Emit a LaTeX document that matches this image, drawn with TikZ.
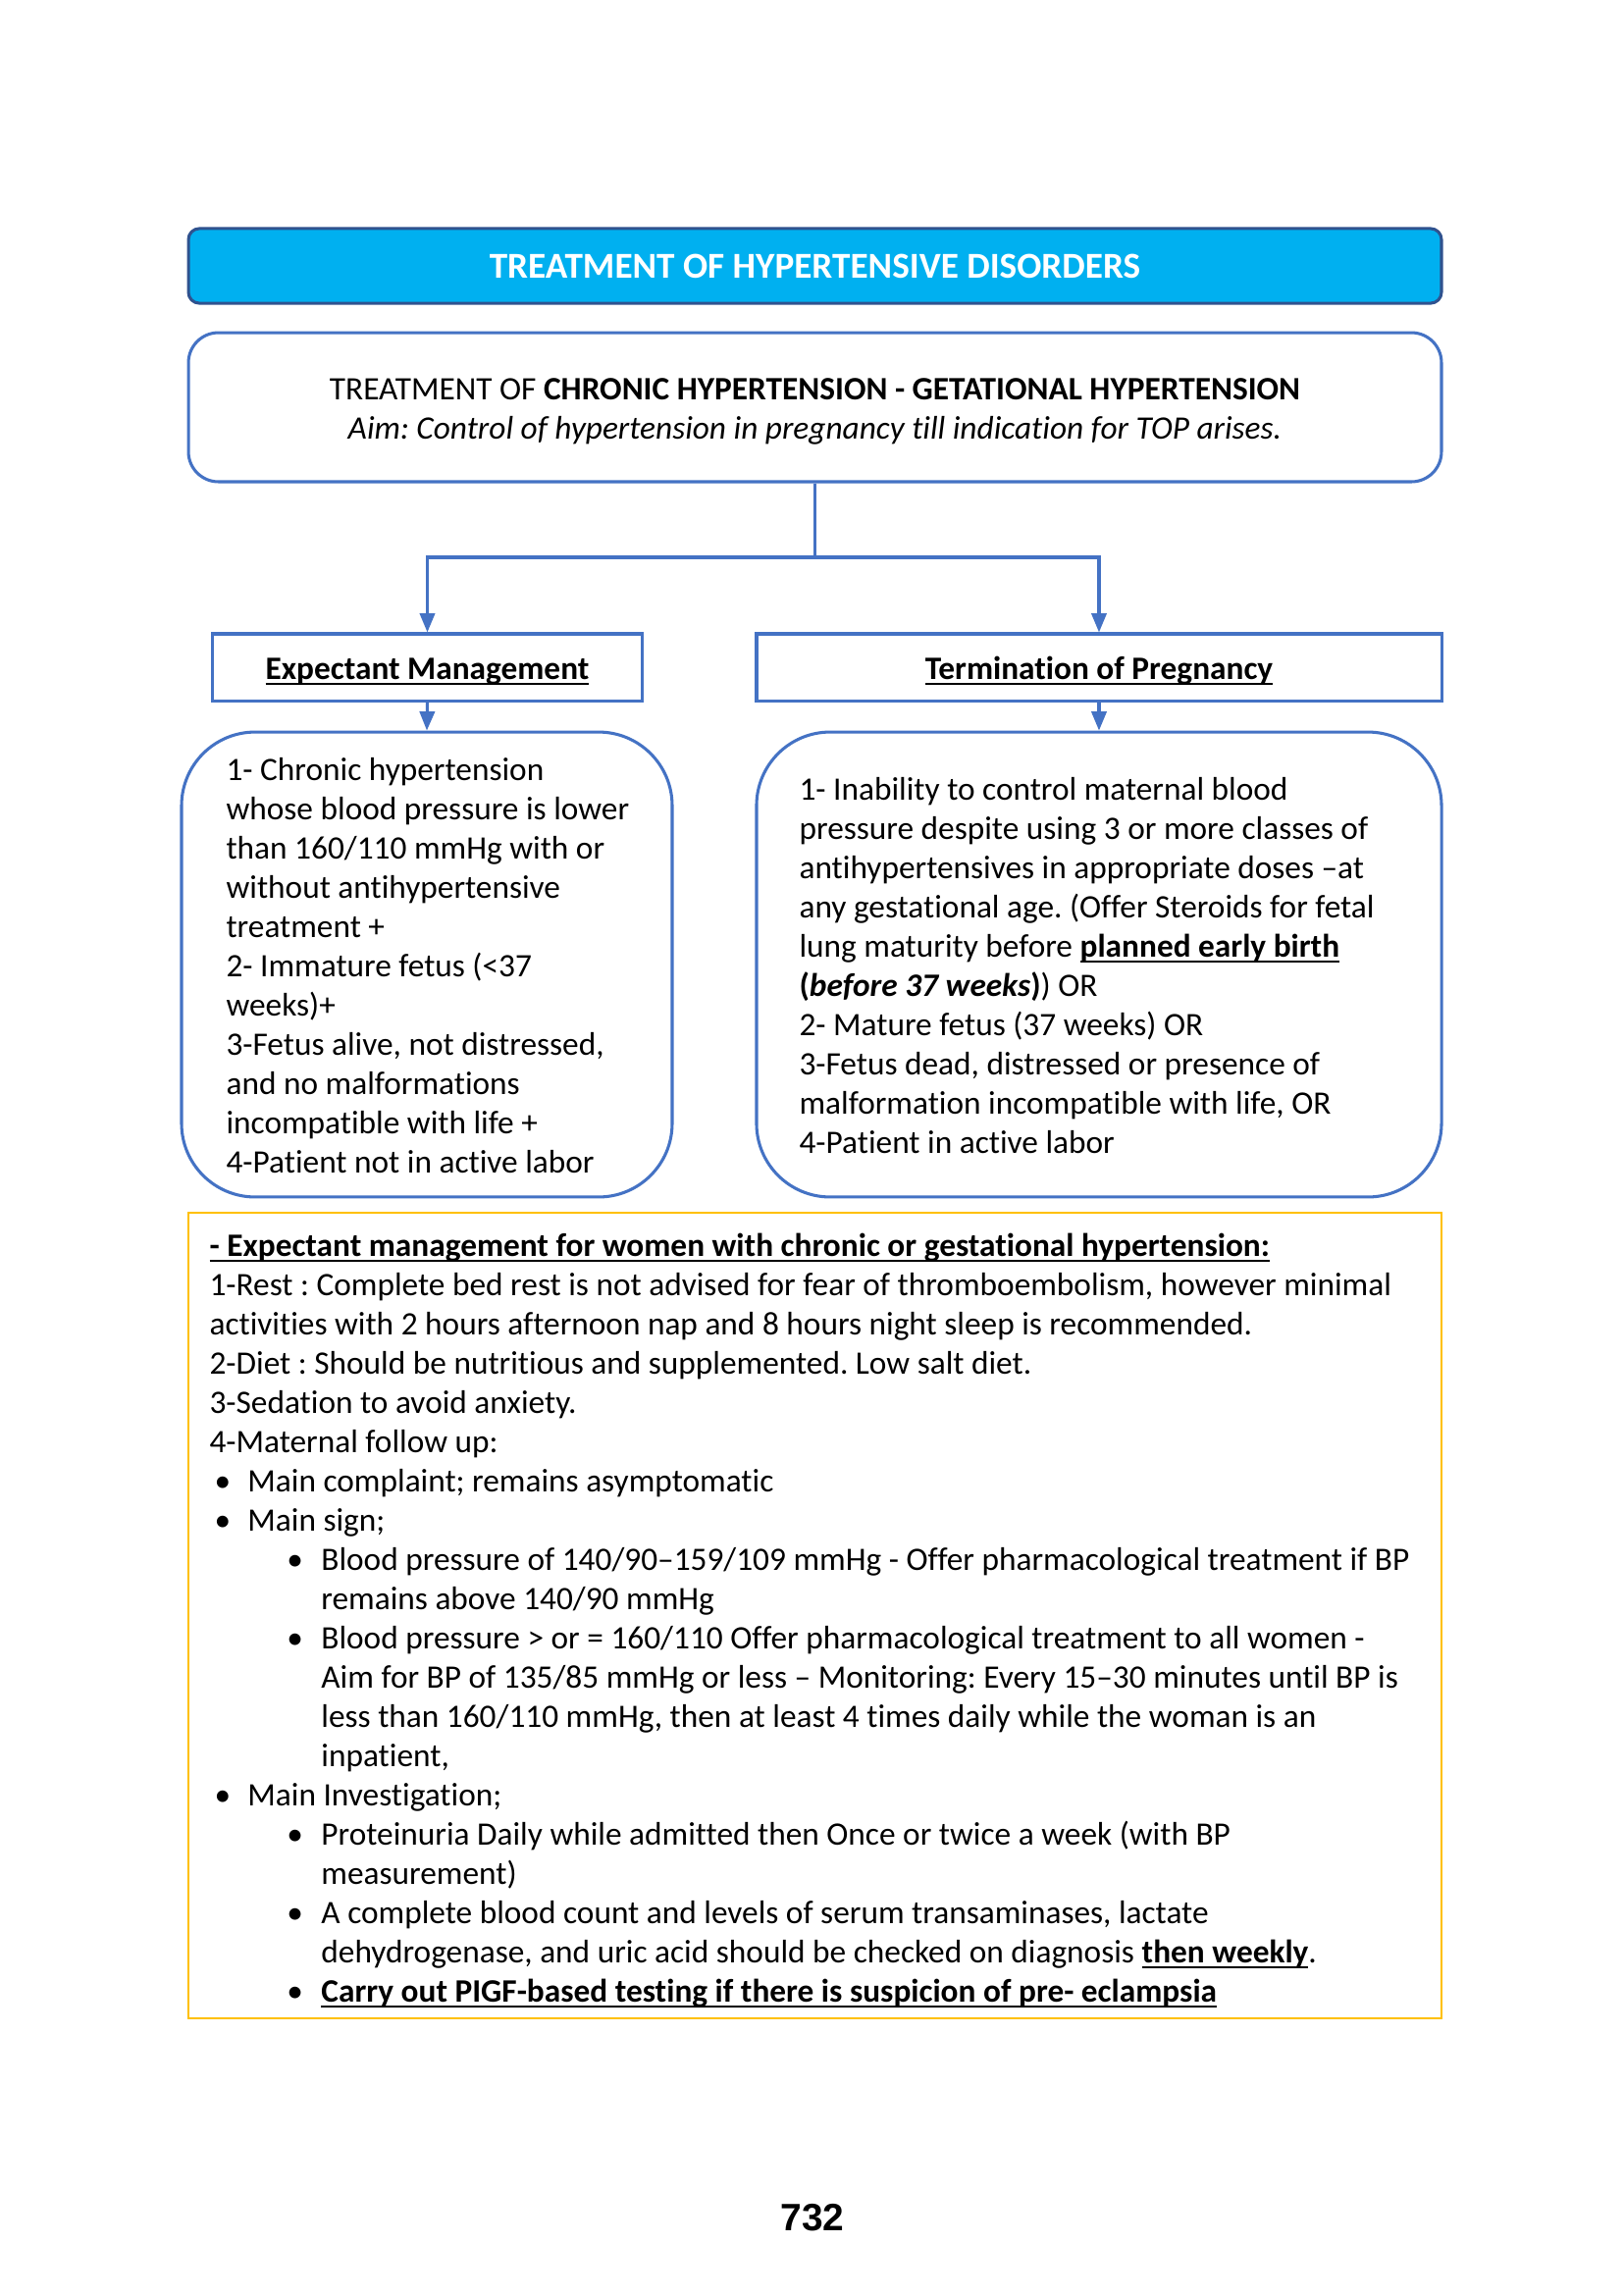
\documentclass[tikz,border=0pt]{standalone}
\usepackage{fontspec}
\setmainfont[Ligatures=NoCommon]{Carlito}
\newfontfamily\arialfont{Liberation Sans}
\usetikzlibrary{arrows.meta}
\definecolor{bblue}{HTML}{4472C4}
\definecolor{tfill}{HTML}{00B0F0}
\definecolor{tdraw}{HTML}{2F528F}
\definecolor{ybord}{HTML}{FFC000}
\newcommand\bitem[1]{\par\hangindent=14pt\hangafter=1\noindent\hspace*{1.8pt}\makebox[12.2pt][l]{•}#1}
\newcommand\sitem[1]{\par\hangindent=41pt\hangafter=1\noindent\hspace*{28.4pt}\makebox[12.6pt][l]{•}#1}
\newcommand\txt{\fontsize{12}{14.4}\selectfont\frenchspacing}
\newcommand\ul[1]{\setbox0\hbox{#1}\rlap{\rule[-2.3pt]{\wd0}{0.95pt}}\box0}
\tikzset{
  titlebox/.style={draw=tdraw, fill=tfill, line width=1.1pt, rounded corners=4pt, inner sep=0pt,
    text=white, font=\fontsize{13.4}{16}\selectfont\bfseries},
  mainbox/.style={draw=bblue, line width=1.1pt, rounded corners=11pt, inner sep=0pt},
  headbox/.style={draw=bblue, line width=1.1pt, inner sep=0pt},
  headtext/.style={anchor=base, inner sep=0pt, font=\txt\bfseries},
  roundbox/.style={draw=bblue, line width=1.1pt, rounded corners=27pt, inner sep=0pt},
  notebox/.style={draw=ybord, line width=1pt, inner sep=0pt},
  bodytext/.style={anchor=base west, inner sep=0pt, font=\txt},
  conn/.style={draw=bblue, line width=1.1pt},
  arr/.style={conn, -{Triangle[width=5.5pt,length=7pt]}}
}
\begin{document}
\begin{tikzpicture}[x=0.36pt,y=-0.36pt]
\useasboundingbox[fill=white] (0,0) rectangle (1654,2339);

\node[titlebox, minimum width=459.7pt, minimum height=27.4pt] (title) at (830.5,271) {TREATMENT OF HYPERTENSIVE DISORDERS};

\node[mainbox, minimum width=459.7pt, minimum height=54.7pt] (main) at (830.5,415) {};
\node[font=\txt, align=center, inner sep=0pt] (maintext) at (830.5,419) {TREATMENT OF \textbf{CHRONIC HYPERTENSION - GETATIONAL HYPERTENSION}\\ \textit{Aim: Control of hypertension in pregnancy till indication for TOP arises.}};

\node[headbox, minimum width=158pt, minimum height=24.5pt] (exp) at (435.5,680) {};
\node[headtext] (exptext) at (435.5,692) {\ul{Expectant Management}};
\node[headbox, minimum width=251.3pt, minimum height=24.5pt] (term) at (1120,680) {};
\node[headtext] (termtext) at (1120,692) {\ul{Termination of Pregnancy}};

\coordinate (j) at (830.5,568);
\draw[conn] (main.south) -- (j);
\draw[arr] (j) -| (exp.north);
\draw[arr] (j) -| (term.north);

\node[roundbox, minimum width=180pt, minimum height=170.6pt] (left) at (435,983) {};
\node[roundbox, minimum width=251.3pt, minimum height=170.6pt] (right) at (1120,983) {};
\draw[arr] (exp.south) -- (left.north);
\draw[arr] (term.south) -- (right.north);

\node[bodytext] (lefttext) at (230,795) {\parbox[t]{165pt}{\txt\parindent=0pt
1- Chronic hypertension\\
whose blood pressure is lower\\
than 160/110 mmHg with or\\
without antihypertensive\\
treatment +\\
2- Immature fetus (<37\\
weeks)+\\
3-Fetus alive, not distressed,\\
and no malformations\\
incompatible with life +\\
4-Patient not in active labor}};

\node[bodytext] (righttext) at (814,815) {\parbox[t]{232pt}{\txt\parindent=0pt
1- Inability to control maternal blood\\
pressure despite using 3 or more classes of\\
antihypertensives in appropriate doses –at\\
any gestational age. (Offer Steroids for fetal\\
lung maturity before \textbf{\ul{planned early birth}}\\
\textbf{(\textit{before 37 weeks})}) OR\\
2- Mature fetus (37 weeks) OR\\
3-Fetus dead, distressed or presence of\\
malformation incompatible with life, OR\\
4-Patient in active labor}};

\node[notebox, minimum width=459.7pt, minimum height=295.6pt] (note) at (830.5,1646.5) {};
\node[bodytext] (notetext) at (213,1280) {\parbox[t]{456pt}{\txt\parindent=0pt\parskip=0pt
\textbf{\ul{- Expectant management for women with chronic or gestational hypertension:}}\par
1-Rest : Complete bed rest is not advised for fear of thromboembolism, however minimal\\
activities with 2 hours afternoon nap and 8 hours night sleep is recommended.\par
2-Diet : Should be nutritious and supplemented. Low salt diet.\par
3-Sedation to avoid anxiety.\par
4-Maternal follow up:
\bitem{Main complaint; remains asymptomatic}
\bitem{Main sign;}
\sitem{Blood pressure of 140/90–159/109 mmHg - Offer pharmacological treatment if BP\\
remains above 140/90 mmHg}
\sitem{Blood pressure > or = 160/110 Offer pharmacological treatment to all women -\\
Aim for BP of 135/85 mmHg or less – Monitoring: Every 15–30 minutes until BP is\\
less than 160/110 mmHg, then at least 4 times daily while the woman is an\\
inpatient,}
\bitem{Main Investigation;}
\sitem{Proteinuria Daily while admitted then Once or twice a week (with BP\\
measurement)}
\sitem{A complete blood count and levels of serum transaminases, lactate\\
dehydrogenase, and uric acid should be checked on diagnosis \textbf{\ul{then weekly}}.}
\sitem{\textbf{\ul{Carry out PIGF-based testing if there is suspicion of pre- eclampsia}}}\par}};

\node[font=\arialfont\bfseries\fontsize{14}{16}\selectfont, inner sep=0pt] (page) at (828,2260) {732};
\end{tikzpicture}
\end{document}
